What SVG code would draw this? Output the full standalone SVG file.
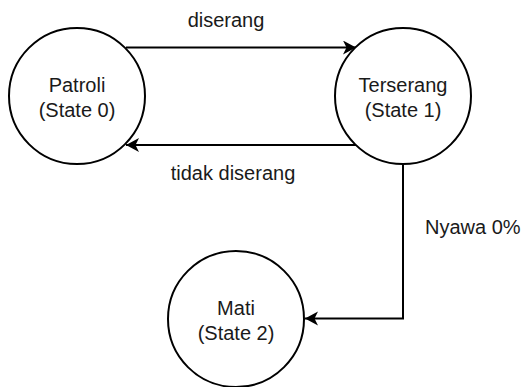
<svg xmlns="http://www.w3.org/2000/svg" width="524" height="387" viewBox="0 0 524 387">
  <style>
    .state { fill: #ffffff; stroke: #000000; stroke-width: 2; }
    .label { font-family: "Liberation Sans", Arial, Helvetica, sans-serif; font-size: 20px; fill: #1a1a1a; }
    .mid { text-anchor: middle; }
    .edge { fill: none; stroke: #000000; stroke-width: 2; }
  </style>
  <defs>
    <marker id="arrow" markerUnits="userSpaceOnUse" markerWidth="16" markerHeight="16" refX="13" refY="7" orient="auto">
      <path d="M0,0 L13,7 L0,14 L3.5,7 Z" fill="#000000"/>
    </marker>
  </defs>
  <rect width="524" height="387" fill="#ffffff"/>

  <!-- transitions -->
  <g id="connectors">
    <path class="edge" d="M126,47.5 L356,47.5" marker-end="url(#arrow)"/>
    <text class="label mid" x="226" y="27">diserang</text>
    <path class="edge" d="M356,145 L126,145" marker-end="url(#arrow)"/>
    <text class="label mid" x="233" y="180">tidak diserang</text>
    <path class="edge" d="M403,164 L403,318.5 L305,318.5" marker-end="url(#arrow)"/>
    <text class="label" x="425" y="234">Nyawa 0%</text>
  </g>

  <!-- states -->
  <g id="state0">
    <circle class="state" cx="77" cy="96" r="68"/>
    <text class="label mid" x="77" y="92">Patroli</text>
    <text class="label mid" x="77" y="117">(State 0)</text>
  </g>
  <g id="state1">
    <circle class="state" cx="403" cy="96" r="68"/>
    <text class="label mid" x="403" y="92">Terserang</text>
    <text class="label mid" x="403" y="117">(State 1)</text>
  </g>
  <g id="state2">
    <circle class="state" cx="236" cy="319" r="68"/>
    <text class="label mid" x="236" y="315">Mati</text>
    <text class="label mid" x="236" y="340">(State 2)</text>
  </g>
</svg>
